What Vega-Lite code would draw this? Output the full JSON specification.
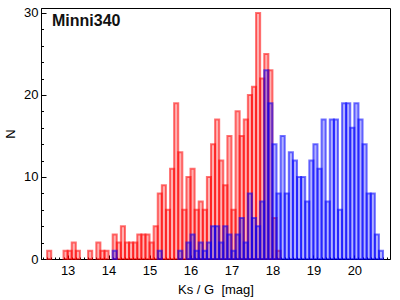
{
"$schema": "https://vega.github.io/schema/vega-lite/v6.json",
"width": 349,
"height": 251,
"autosize": {"type": "none"},
"padding": {"left": 41, "top": 8, "right": 10, "bottom": 41},
"background": "white",
"config": {"view": {"stroke": "black", "strokeWidth": 1}, "font": "Liberation Sans"},
"title": {"text": "Minni340", "anchor": "start", "frame": "group", "dx": 11, "dy": 16, "offset": -19, "baseline": "alphabetic", "font": "Liberation Sans", "fontSize": 16, "fontWeight": "bold", "color": "#111111"},
"data": {"values": [
{"s":"Ks","a":12.5,"b":12.6,"n":1},
{"s":"Ks","a":12.9,"b":13,"n":1},
{"s":"Ks","a":13,"b":13.1,"n":1},
{"s":"Ks","a":13.1,"b":13.2,"n":2},
{"s":"Ks","a":13.2,"b":13.3,"n":1},
{"s":"Ks","a":13.5,"b":13.6,"n":1},
{"s":"Ks","a":13.7,"b":13.8,"n":2},
{"s":"Ks","a":13.8,"b":13.9,"n":1},
{"s":"Ks","a":13.9,"b":14,"n":1},
{"s":"Ks","a":14.1,"b":14.2,"n":3},
{"s":"Ks","a":14.2,"b":14.3,"n":2},
{"s":"Ks","a":14.3,"b":14.4,"n":4},
{"s":"Ks","a":14.4,"b":14.5,"n":2},
{"s":"Ks","a":14.5,"b":14.6,"n":2},
{"s":"Ks","a":14.6,"b":14.7,"n":2},
{"s":"Ks","a":14.7,"b":14.8,"n":3},
{"s":"Ks","a":14.8,"b":14.9,"n":3},
{"s":"Ks","a":14.9,"b":15,"n":3},
{"s":"Ks","a":15,"b":15.1,"n":2},
{"s":"Ks","a":15.1,"b":15.2,"n":4},
{"s":"Ks","a":15.2,"b":15.3,"n":8},
{"s":"Ks","a":15.3,"b":15.4,"n":9},
{"s":"Ks","a":15.4,"b":15.5,"n":6},
{"s":"Ks","a":15.5,"b":15.6,"n":11},
{"s":"Ks","a":15.6,"b":15.7,"n":19},
{"s":"Ks","a":15.7,"b":15.8,"n":13},
{"s":"Ks","a":15.8,"b":15.9,"n":6},
{"s":"Ks","a":15.9,"b":16,"n":10},
{"s":"Ks","a":16,"b":16.1,"n":11},
{"s":"Ks","a":16.1,"b":16.2,"n":6},
{"s":"Ks","a":16.2,"b":16.3,"n":7},
{"s":"Ks","a":16.3,"b":16.4,"n":6},
{"s":"Ks","a":16.4,"b":16.5,"n":10},
{"s":"Ks","a":16.5,"b":16.6,"n":14},
{"s":"Ks","a":16.6,"b":16.7,"n":17},
{"s":"Ks","a":16.7,"b":16.8,"n":12},
{"s":"Ks","a":16.8,"b":16.9,"n":9},
{"s":"Ks","a":16.9,"b":17,"n":15},
{"s":"Ks","a":17,"b":17.1,"n":6},
{"s":"Ks","a":17.1,"b":17.2,"n":18},
{"s":"Ks","a":17.2,"b":17.3,"n":15},
{"s":"Ks","a":17.3,"b":17.4,"n":17},
{"s":"Ks","a":17.4,"b":17.5,"n":20},
{"s":"Ks","a":17.5,"b":17.6,"n":21},
{"s":"Ks","a":17.6,"b":17.7,"n":30},
{"s":"Ks","a":17.7,"b":17.8,"n":22},
{"s":"Ks","a":17.8,"b":17.9,"n":25},
{"s":"Ks","a":17.9,"b":18,"n":23},
{"s":"Ks","a":18,"b":18.1,"n":5},
{"s":"Ks","a":18.1,"b":18.2,"n":1},
{"s":"G","a":14.1,"b":14.2,"n":1},
{"s":"G","a":15.2,"b":15.3,"n":1},
{"s":"G","a":15.7,"b":15.8,"n":1},
{"s":"G","a":15.9,"b":16,"n":2},
{"s":"G","a":16,"b":16.1,"n":3},
{"s":"G","a":16.1,"b":16.2,"n":1},
{"s":"G","a":16.2,"b":16.3,"n":2},
{"s":"G","a":16.3,"b":16.4,"n":1},
{"s":"G","a":16.4,"b":16.5,"n":2},
{"s":"G","a":16.5,"b":16.6,"n":4},
{"s":"G","a":16.6,"b":16.7,"n":4},
{"s":"G","a":16.7,"b":16.8,"n":2},
{"s":"G","a":16.8,"b":16.9,"n":4},
{"s":"G","a":16.9,"b":17,"n":3},
{"s":"G","a":17,"b":17.1,"n":1},
{"s":"G","a":17.1,"b":17.2,"n":3},
{"s":"G","a":17.2,"b":17.3,"n":5},
{"s":"G","a":17.3,"b":17.4,"n":2},
{"s":"G","a":17.4,"b":17.5,"n":8},
{"s":"G","a":17.5,"b":17.6,"n":5},
{"s":"G","a":17.6,"b":17.7,"n":4},
{"s":"G","a":17.7,"b":17.8,"n":7},
{"s":"G","a":17.8,"b":17.9,"n":23},
{"s":"G","a":17.9,"b":18,"n":19},
{"s":"G","a":18,"b":18.1,"n":14},
{"s":"G","a":18.1,"b":18.2,"n":8},
{"s":"G","a":18.2,"b":18.3,"n":15},
{"s":"G","a":18.3,"b":18.4,"n":8},
{"s":"G","a":18.4,"b":18.5,"n":13},
{"s":"G","a":18.5,"b":18.6,"n":12},
{"s":"G","a":18.6,"b":18.7,"n":10},
{"s":"G","a":18.7,"b":18.8,"n":10},
{"s":"G","a":18.8,"b":18.9,"n":7},
{"s":"G","a":18.9,"b":19,"n":12},
{"s":"G","a":19,"b":19.1,"n":14},
{"s":"G","a":19.1,"b":19.2,"n":11},
{"s":"G","a":19.2,"b":19.3,"n":17},
{"s":"G","a":19.3,"b":19.4,"n":7},
{"s":"G","a":19.4,"b":19.5,"n":17},
{"s":"G","a":19.5,"b":19.6,"n":17},
{"s":"G","a":19.6,"b":19.7,"n":6},
{"s":"G","a":19.7,"b":19.8,"n":19},
{"s":"G","a":19.8,"b":19.9,"n":19},
{"s":"G","a":19.9,"b":20,"n":16},
{"s":"G","a":20,"b":20.1,"n":19},
{"s":"G","a":20.1,"b":20.2,"n":17},
{"s":"G","a":20.2,"b":20.3,"n":14},
{"s":"G","a":20.3,"b":20.4,"n":8},
{"s":"G","a":20.4,"b":20.5,"n":8},
{"s":"G","a":20.5,"b":20.6,"n":3},
{"s":"G","a":20.6,"b":20.7,"n":1}
]},
"mark": {"type": "bar", "fillOpacity": 0.3, "strokeOpacity": 0.55, "strokeWidth": 2},
"encoding": {
"x": {"field": "a", "type": "quantitative",
 "scale": {"domain": [12.35, 20.87], "nice": false, "zero": false},
 "axis": {"values": [12.4,12.5,12.6,12.7,12.8,12.9,13,13.1,13.2,13.3,13.4,13.5,13.6,13.7,13.8,13.9,14,14.1,14.2,14.3,14.4,14.5,14.6,14.7,14.8,14.9,15,15.1,15.2,15.3,15.4,15.5,15.6,15.7,15.8,15.9,16,16.1,16.2,16.3,16.4,16.5,16.6,16.7,16.8,16.9,17,17.1,17.2,17.3,17.4,17.5,17.6,17.7,17.8,17.9,18,18.1,18.2,18.3,18.4,18.5,18.6,18.7,18.8,18.9,19,19.1,19.2,19.3,19.4,19.5,19.6,19.7,19.8,19.9,20,20.1,20.2,20.3,20.4,20.5,20.6,20.7,20.8],
  "labelExpr": "datum.value % 1 === 0 ? format(datum.value, 'd') : ''",
  "tickSize": {"condition": {"test": "datum.value % 1 === 0", "value": -4}, "value": -2},
  "tickColor": "black", "domainColor": "black", "labelColor": "black",
  "labelFontSize": 13, "labelPadding": 9, "labelOverlap": false, "labelFlush": false, "grid": false,
  "title": "Ks / G\u00a0 [mag]", "titleFontSize": 13, "titleFontWeight": "normal", "titleColor": "black", "titlePadding": 4}},
"x2": {"field": "b"},
"y": {"field": "n", "type": "quantitative", "stack": null,
 "scale": {"domain": [0, 30.6], "nice": false},
 "axis": {"values": [0,2,4,6,8,10,12,14,16,18,20,22,24,26,28,30],
  "labelExpr": "datum.value % 10 === 0 ? format(datum.value, 'd') : ''",
  "tickSize": {"condition": {"test": "datum.value % 10 === 0", "value": -5}, "value": -2.5},
  "tickColor": "black", "domainColor": "black", "labelColor": "black",
  "labelFontSize": 13, "labelPadding": 8, "labelOverlap": false, "labelFlush": false, "grid": false,
  "title": "N", "titleFontSize": 13, "titleFontWeight": "normal", "titleColor": "black", "titlePadding": 6}},
"y2": {"datum": 0},
"fill": {"field": "s", "type": "nominal", "scale": {"domain": ["Ks", "G"], "range": ["#ff0000", "#0000ff"]}, "legend": null},
"stroke": {"field": "s", "type": "nominal", "scale": {"domain": ["Ks", "G"], "range": ["#ff0000", "#0000ff"]}, "legend": null}
}
}
